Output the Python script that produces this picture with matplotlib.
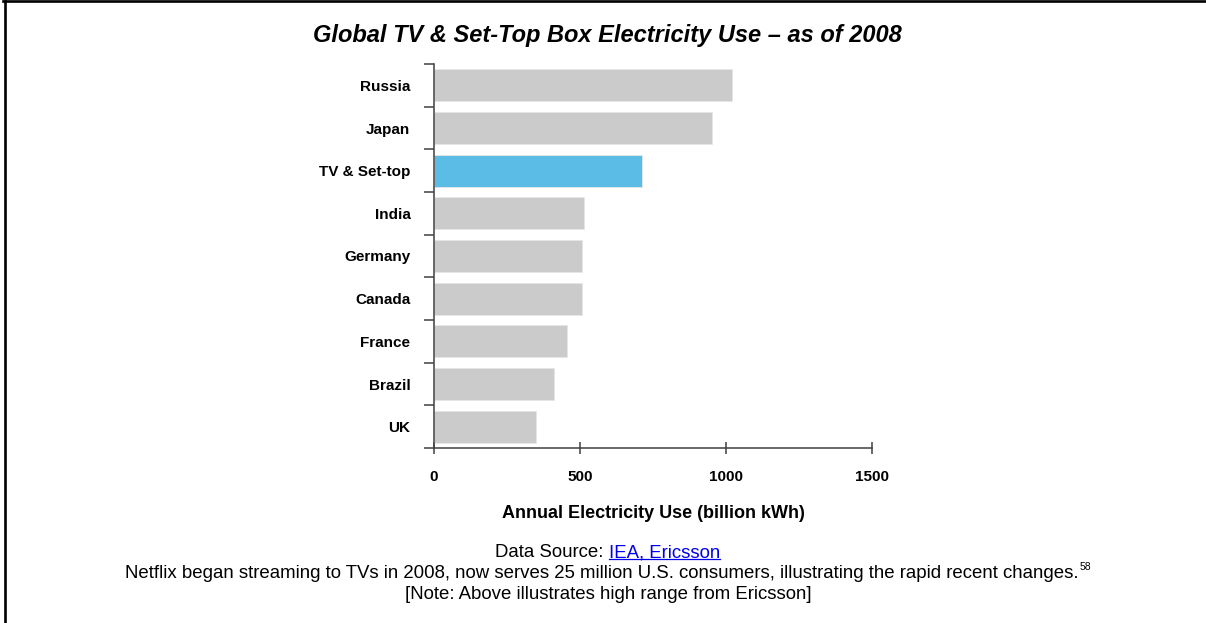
import matplotlib
matplotlib.use("Agg")  # headless
import matplotlib.pyplot as plt
from matplotlib.lines import Line2D

# data (billion kWh, 2008)
categories = ["Russia", "Japan", "TV & Set-top", "India", "Germany",
              "Canada", "France", "Brazil", "UK"]
usage_bkwh = [1022, 953, 713, 514, 506, 506, 454, 411, 348]
highlight = "TV & Set-top"
x_ticks = [0, 500, 1000, 1500]

TITLE = "Global TV & Set-Top Box Electricity Use \u2013 as of 2008"
XLABEL = "Annual Electricity Use (billion kWh)"
SOURCE_PREFIX = "Data Source:"
SOURCE_LINKS = "IEA, Ericsson"
NOTE_LINE = ("Netflix began streaming to TVs in 2008, now serves 25 million U.S. "
             "consumers, illustrating the rapid recent changes.")
NOTE_REF = "58"
NOTE_LINE2 = "[Note: Above illustrates high range from Ericsson]"

GREY = "#cbcbcb"
BLUE = "#5bbde6"
LINK = "#0000ee"

plt.rcParams["font.family"] = ["Liberation Sans", "DejaVu Sans"]

W, H = 1206, 623
fig = plt.figure(figsize=(W / 100, H / 100), dpi=100)
ax = fig.add_axes([434 / W, 1 - 448 / H, 438 / W, 384 / H])

colors = [BLUE if c == highlight else GREY for c in categories]
ypos = list(range(len(categories)))
ax.barh(ypos, usage_bkwh, height=0.75, color=colors, edgecolor="#e6e6e6",
        linewidth=0.6, zorder=2)

ax.set_xlim(0, 1500)
ax.set_ylim(len(categories) - 0.5, -0.5)
ax.set_xticks(x_ticks)
ax.set_xticklabels([str(v) for v in x_ticks], fontsize=11, fontweight="bold")
ax.set_yticks(ypos)
ax.set_yticklabels(categories, fontsize=11, fontweight="bold")
ax.set_yticks([i - 0.5 for i in range(len(categories) + 1)], minor=True)

ax.tick_params(axis="y", which="major", length=0, pad=17)
ax.tick_params(axis="y", which="minor", length=7, width=1.1, color="#404040",
               direction="out")
ax.tick_params(axis="x", length=8, width=1.1, color="#404040",
               direction="inout", pad=12)

for side in ["top", "right"]:
    ax.spines[side].set_visible(False)
for side in ["left", "bottom"]:
    ax.spines[side].set_color("#404040")
    ax.spines[side].set_linewidth(1.1)

ax.set_xlabel(XLABEL, fontsize=13, fontweight="bold", labelpad=15)

fig.text(0.504, 1 - 41.7 / H, TITLE, ha="center", va="baseline",
         fontsize=17, fontweight="bold", fontstyle="italic")

# --- footnotes ---
cx = 0.504
fs = 13.4
y1 = 1 - 557 / H
y2 = 1 - 578 / H
y3 = 1 - 599 / H

fig.canvas.draw()
rend = fig.canvas.get_renderer()

full = fig.text(cx, y1, SOURCE_PREFIX + " " + SOURCE_LINKS, ha="center",
                va="baseline", fontsize=fs, alpha=0)
bb = full.get_window_extent(rend)
fig.text(bb.x0 / W, y1, SOURCE_PREFIX, ha="left", va="baseline", fontsize=fs)
link = fig.text(bb.x1 / W, y1, SOURCE_LINKS, ha="right", va="baseline",
                fontsize=fs, color=LINK)
lb = link.get_window_extent(rend)
uy = y1 - 2.0 / H
fig.add_artist(Line2D([lb.x0 / W, lb.x1 / W], [uy, uy], color=LINK,
                      linewidth=0.9, transform=fig.transFigure))

main = fig.text(0, y2, NOTE_LINE, ha="left", va="baseline", fontsize=fs)
sup = fig.text(0, y2 + 8 / H, NOTE_REF, ha="left", va="baseline", fontsize=7.5)
mw = main.get_window_extent(rend).width
sw = sup.get_window_extent(rend).width
x0 = cx * W - (mw + 1 + sw) / 2
main.set_x(x0 / W)
sup.set_x((x0 + mw + 1) / W)

fig.text(cx, y3, NOTE_LINE2, ha="center", va="baseline", fontsize=fs)

# frame lines at top and left edge of the slide
fig.add_artist(Line2D([3 / W, 1], [1 - 1.3 / H, 1 - 1.3 / H], color="black",
                      linewidth=1.9, transform=fig.transFigure))
fig.add_artist(Line2D([4.5 / W, 4.5 / W], [0, 1 - 0.5 / H], color="black",
                      linewidth=1.9, transform=fig.transFigure))

fig.savefig("out.png", dpi=100)
